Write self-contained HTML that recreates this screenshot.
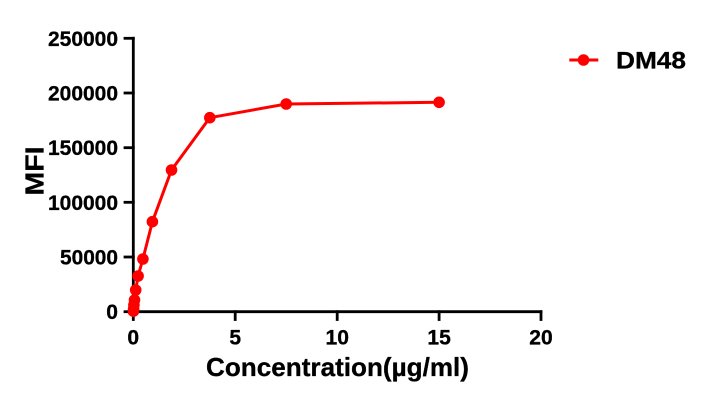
<!DOCTYPE html>
<html>
<head>
<meta charset="utf-8">
<style>
html,body{margin:0;padding:0;background:#fff;}
svg{display:block;}
text{font-family:"Liberation Sans",Arial,sans-serif;font-weight:bold;fill:#000;}
</style>
</head>
<body>
<svg width="706" height="400" viewBox="0 0 706 400" xmlns="http://www.w3.org/2000/svg">
  <rect width="706" height="400" fill="#fff"/>
  <!-- axes -->
  <g stroke="#000" stroke-width="2.8" fill="none" stroke-linecap="square">
    <line x1="133.3" y1="38.3" x2="133.3" y2="311.7"/>
    <line x1="133.3" y1="311.7" x2="541" y2="311.7"/>
    <!-- y ticks -->
    <line x1="125" y1="38.3" x2="133.3" y2="38.3"/>
    <line x1="125" y1="93.0" x2="133.3" y2="93.0"/>
    <line x1="125" y1="147.7" x2="133.3" y2="147.7"/>
    <line x1="125" y1="202.3" x2="133.3" y2="202.3"/>
    <line x1="125" y1="257.0" x2="133.3" y2="257.0"/>
    <line x1="125" y1="311.7" x2="133.3" y2="311.7"/>
    <!-- x ticks -->
    <line x1="133.3" y1="311.7" x2="133.3" y2="319.5"/>
    <line x1="235.2" y1="311.7" x2="235.2" y2="319.5"/>
    <line x1="337.2" y1="311.7" x2="337.2" y2="319.5"/>
    <line x1="439.1" y1="311.7" x2="439.1" y2="319.5"/>
    <line x1="541" y1="311.7" x2="541" y2="319.5"/>
  </g>
  <!-- y tick labels -->
  <g font-size="21" text-anchor="end" stroke="#000" stroke-width="0.3">
    <text x="118" y="45.8" textLength="70" lengthAdjust="spacingAndGlyphs">250000</text>
    <text x="118" y="100.5" textLength="70" lengthAdjust="spacingAndGlyphs">200000</text>
    <text x="118" y="155.2" textLength="70" lengthAdjust="spacingAndGlyphs">150000</text>
    <text x="118" y="209.8" textLength="70" lengthAdjust="spacingAndGlyphs">100000</text>
    <text x="118" y="264.5" textLength="58" lengthAdjust="spacingAndGlyphs">50000</text>
    <text x="118" y="319.2" textLength="11.7" lengthAdjust="spacingAndGlyphs">0</text>
  </g>
  <!-- x tick labels -->
  <g font-size="21" text-anchor="middle" stroke="#000" stroke-width="0.3">
    <text x="133.3" y="344.3" textLength="11.7" lengthAdjust="spacingAndGlyphs">0</text>
    <text x="235.2" y="344.3" textLength="11.7" lengthAdjust="spacingAndGlyphs">5</text>
    <text x="337.2" y="344.3" textLength="23.4" lengthAdjust="spacingAndGlyphs">10</text>
    <text x="439.1" y="344.3" textLength="23.4" lengthAdjust="spacingAndGlyphs">15</text>
    <text x="541" y="344.3" textLength="23.4" lengthAdjust="spacingAndGlyphs">20</text>
  </g>
  <!-- axis titles -->
  <text x="337.5" y="376" font-size="26" text-anchor="middle" textLength="263" lengthAdjust="spacingAndGlyphs" stroke="#000" stroke-width="0.3">Concentration(µg/ml)</text>
  <text transform="translate(43.3,171) rotate(-90)" font-size="26" text-anchor="middle" textLength="49" lengthAdjust="spacingAndGlyphs" stroke="#000" stroke-width="0.3">MFI</text>
  <!-- series -->
  <polyline fill="none" stroke="#ff0000" stroke-width="3" stroke-linejoin="round"
    points="133.4,311.2 133.6,309 133.9,305 134.5,300 135.7,290 138.1,276 142.9,259 152.4,221.7 171.5,170 209.8,117.7 286.2,104 439.1,102.3"/>
  <g fill="#ff0000">
    <circle cx="133.4" cy="311.2" r="5.8"/>
    <circle cx="133.6" cy="309" r="5.8"/>
    <circle cx="133.9" cy="305" r="5.8"/>
    <circle cx="134.5" cy="300" r="5.8"/>
    <circle cx="135.7" cy="290" r="5.8"/>
    <circle cx="138.1" cy="276" r="5.8"/>
    <circle cx="142.9" cy="259" r="5.8"/>
    <circle cx="152.4" cy="221.7" r="5.8"/>
    <circle cx="171.5" cy="170" r="5.8"/>
    <circle cx="209.8" cy="117.7" r="5.8"/>
    <circle cx="286.2" cy="104" r="5.8"/>
    <circle cx="439.1" cy="102.3" r="5.8"/>
  </g>
  <!-- legend -->
  <line x1="569.3" y1="60" x2="598.3" y2="60" stroke="#ff0000" stroke-width="3"/>
  <circle cx="583.5" cy="60" r="5.8" fill="#ff0000"/>
  <text x="616" y="68.5" font-size="24" textLength="70" lengthAdjust="spacingAndGlyphs" stroke="#000" stroke-width="0.3">DM48</text>
</svg>
</body>
</html>
